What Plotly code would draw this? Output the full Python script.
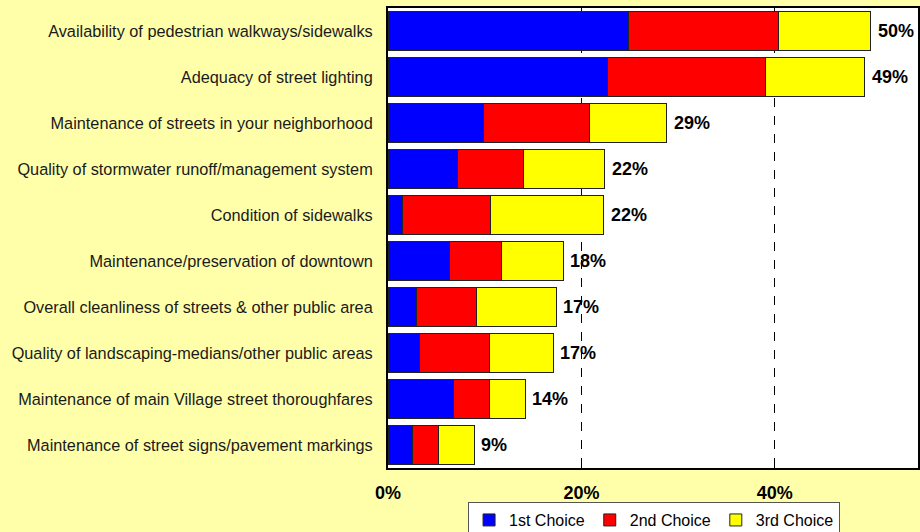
import plotly.graph_objects as go

categories = [
    "Availability of pedestrian walkways/sidewalks",
    "Adequacy of street lighting",
    "Maintenance of streets in your neighborhood",
    "Quality of stormwater runoff/management system",
    "Condition of sidewalks",
    "Maintenance/preservation of downtown",
    "Overall cleanliness of streets & other public area",
    "Quality of landscaping-medians/other public areas",
    "Maintenance of main Village street thoroughfares",
    "Maintenance of street signs/pavement markings",
]
first_choice = [24.9, 22.7, 9.9, 7.2, 1.5, 6.4, 2.9, 3.3, 6.8, 2.5]
second_choice = [15.5, 16.3, 10.9, 6.8, 9.1, 5.3, 6.3, 7.2, 3.7, 2.7]
third_choice = [9.5, 10.3, 8.0, 8.4, 11.7, 6.4, 8.2, 6.6, 3.7, 3.7]
total_labels = [50, 49, 29, 22, 22, 18, 17, 17, 14, 9]
series_names = ["1st Choice", "2nd Choice", "3rd Choice"]
series_colors = ["#0000FF", "#FF0000", "#FFFF00"]
x_ticks = [0, 20, 40]

FONT = "Liberation Sans, Arial, sans-serif"
BG = "#FFFFAA"

fig = go.Figure()
for name, vals, col in zip(series_names, [first_choice, second_choice, third_choice], series_colors):
    fig.add_trace(go.Bar(
        y=categories, x=vals, name=name, orientation="h",
        marker=dict(color=col, line=dict(color="#222222", width=1)),
        hoverinfo="x+name",
    ))

totals = [a + b + c for a, b, c in zip(first_choice, second_choice, third_choice)]
for cat, tot, lab in zip(categories, totals, total_labels):
    fig.add_annotation(
        x=tot, y=cat, text=f"<b>{lab}%</b>", showarrow=False,
        xanchor="left", yanchor="middle", xshift=5,
        font=dict(family=FONT, size=18, color="#000000"),
    )

fig.update_layout(
    width=920, height=532,
    barmode="stack", bargap=0.15,
    paper_bgcolor=BG, plot_bgcolor="#FFFFFF",
    margin=dict(l=388, r=2, t=8, b=64, autoexpand=False),
    font=dict(family=FONT, size=16, color="#000000"),
    showlegend=True,
    legend=dict(
        orientation="h", x=0.502, xanchor="center", y=-0.074, yanchor="top",
        traceorder="normal",
        bgcolor="#FFFFFF", bordercolor="#555555", borderwidth=1,
        font=dict(family=FONT, size=16, color="#000000"),
        itemwidth=30,
    ),
    xaxis=dict(
        range=[0, 54.8], tickvals=x_ticks,
        ticktext=[f"<b>{v}%</b>" for v in x_ticks],
        tickfont=dict(family=FONT, size=18, color="#000000"),
        showgrid=True, gridcolor="#000000", griddash="dash", gridwidth=1,
        zeroline=False,
        showline=True, linecolor="#000000", linewidth=2, mirror=True,
        ticks="inside", ticklen=5, tickcolor="#000000",
        ticklabelstandoff=7, fixedrange=True,
    ),
    yaxis=dict(
        categoryorder="array", categoryarray=categories, autorange="reversed",
        showline=True, linecolor="#000000", linewidth=2, mirror=True,
        showgrid=False, ticks="",
        tickfont=dict(family=FONT, size=16.3, color="#1a1a1a"),
        ticklabelstandoff=10, fixedrange=True,
    ),
)

fig.write_html(
    "out.html",
    config={"displayModeBar": False},
    post_script="document.body.style.margin='0';document.documentElement.style.overflow='hidden';",
)
